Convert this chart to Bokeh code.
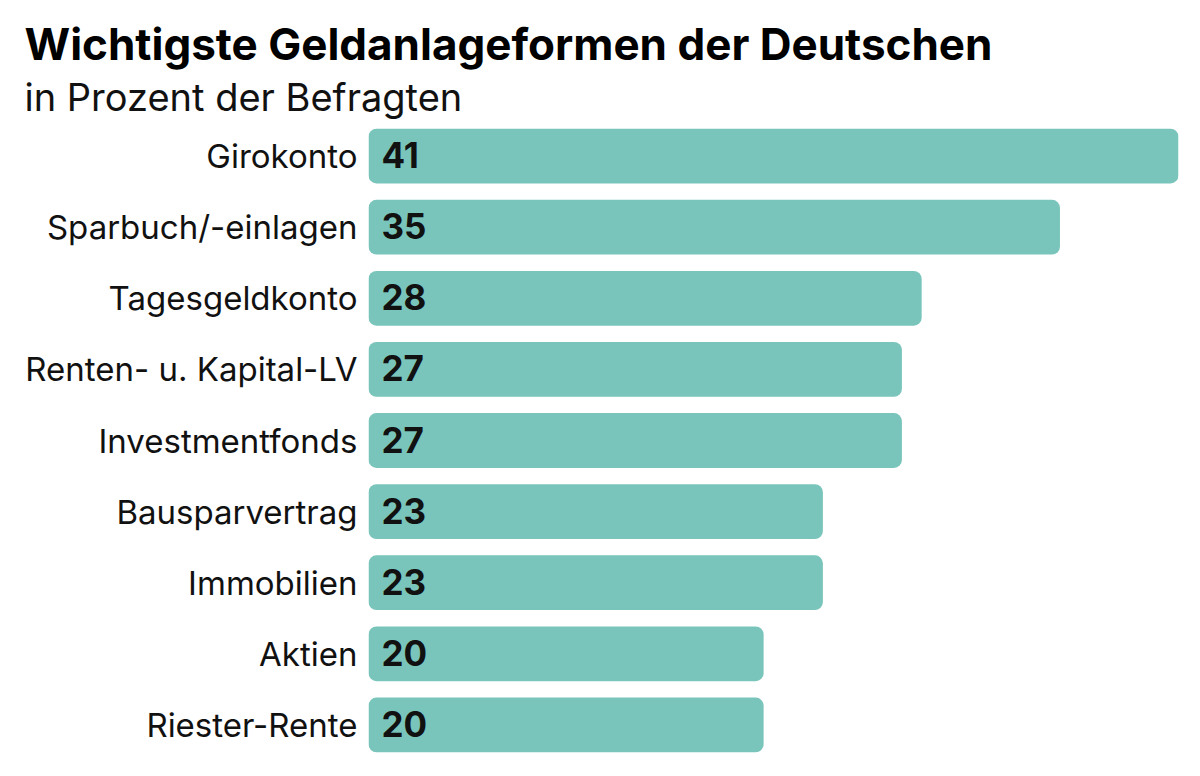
from bokeh.plotting import figure
from bokeh.models import FactorRange, Range1d, Title, ColumnDataSource
from bokeh.core.properties import value
from bokeh.embed import file_html
from bokeh.resources import INLINE

categories = ["Girokonto", "Sparbuch/-einlagen", "Tagesgeldkonto", "Renten- u. Kapital-LV",
              "Investmentfonds", "Bausparvertrag", "Immobilien", "Aktien", "Riester-Rente"]
values = [41, 35, 28, 27, 27, 23, 23, 20, 20]
title_text = "Wichtigste Geldanlageformen der Deutschen"
subtitle_text = "in Prozent der Befragten"

src = ColumnDataSource(dict(cat=categories, val=values, lbl=[str(v) for v in values]))

p = figure(frame_width=810, frame_height=640, output_backend="svg", toolbar_location=None,
           y_range=FactorRange(factors=list(reversed(categories)), range_padding=0),
           x_range=Range1d(0, 41),
           min_border_left=368, min_border_right=5, min_border_bottom=2, min_border_top=0)

# spacer (outermost)
p.title.text = " "
p.title.text_font_size = "11px"
p.title.standoff = 0
# subtitle (closest to plot), then main title above it
p.add_layout(Title(text=subtitle_text, text_font="Inter", text_font_size="38px",
                   text_font_style="normal", text_color="#111111", offset=-344,
                   standoff=2), "above")
p.add_layout(Title(text=title_text, text_font="Inter", text_font_size="44px",
                   text_font_style="bold", text_color="#000000", offset=-344,
                   standoff=0), "above")

p.hbar(y="cat", right="val", left=0, height=0.77, source=src, fill_color="#79C5BB",
       line_color=None, border_radius=8)
p.text(x=0, y="cat", text="lbl", source=src, x_offset=13, y_offset=-1, text_baseline="middle",
       text_align="left", text_font=value("Inter"), text_font_size="35px",
       text_font_style="bold", text_color="#111111")

p.xaxis.visible = False
p.yaxis.axis_line_color = None
p.yaxis.major_tick_line_color = None
p.yaxis.minor_tick_line_color = None
p.yaxis.major_label_text_font = "Inter"
p.yaxis.major_label_text_font_size = "33px"
p.yaxis.major_label_text_color = "#111111"
p.yaxis.major_label_standoff = 5
p.xgrid.visible = False
p.ygrid.visible = False
p.outline_line_color = None
p.background_fill_color = "white"
p.border_fill_color = "white"

open("out.html", "w").write(file_html(p, INLINE))
